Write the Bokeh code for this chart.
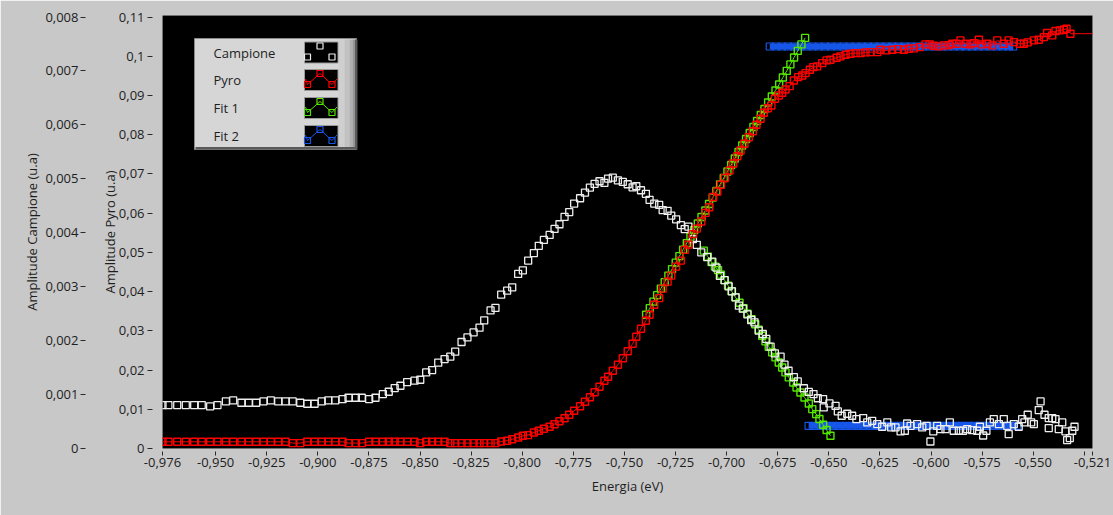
from bokeh.plotting import figure
from bokeh.models import Range1d, LinearAxis, FixedTicker
from bokeh.embed import file_html
from bokeh.resources import INLINE
from bokeh.core.properties import value

# ---------------- data ----------------
energy_campione = [
    -0.9760, -0.9731, -0.9688, -0.9646, -0.9605, -0.9568, -0.9527, -0.9491, -0.9450, -0.9414,
    -0.9374, -0.9338, -0.9302, -0.9266, -0.9230, -0.9194, -0.9158, -0.9123, -0.9086, -0.9052,
    -0.9016, -0.8981, -0.8949, -0.8915, -0.8879, -0.8850, -0.8814, -0.8785, -0.8749, -0.8718,
    -0.8682, -0.8653, -0.8624, -0.8596, -0.8563, -0.8527, -0.8499, -0.8470, -0.8441, -0.8411,
    -0.8380, -0.8352, -0.8328, -0.8297, -0.8268, -0.8238, -0.8209, -0.8186, -0.8155, -0.8131,
    -0.8103, -0.8074, -0.8049, -0.8020, -0.7997, -0.7971, -0.7943, -0.7919, -0.7894, -0.7866,
    -0.7842, -0.7818, -0.7793, -0.7770, -0.7746, -0.7717, -0.7693, -0.7669, -0.7646, -0.7622,
    -0.7598, -0.7580, -0.7557, -0.7532, -0.7508, -0.7484, -0.7460, -0.7442, -0.7419, -0.7395,
    -0.7377, -0.7354, -0.7330, -0.7313, -0.7289, -0.7271, -0.7247, -0.7224, -0.7205, -0.7187,
    -0.7165, -0.7146, -0.7124, -0.7095, -0.7070, -0.7050, -0.7033, -0.7010, -0.6990, -0.6974,
    -0.6956, -0.6940, -0.6921, -0.6898, -0.6880, -0.6864, -0.6843, -0.6823, -0.6806, -0.6785,
    -0.6764, -0.6736, -0.6717, -0.6697, -0.6671, -0.6652, -0.6622, -0.6598, -0.6575, -0.6554,
    -0.6528, -0.6525, -0.6497, -0.6467, -0.6456, -0.6437, -0.6410, -0.6386, -0.6365, -0.6332,
    -0.6312, -0.6288, -0.6263, -0.6239, -0.6214, -0.6195, -0.6174, -0.6149, -0.6128, -0.6117,
    -0.6100, -0.6068, -0.6043, -0.6022, -0.6003, -0.5989, -0.5970, -0.5954, -0.5929, -0.5908,
    -0.5889, -0.5864, -0.5843, -0.5823, -0.5799, -0.5774, -0.5761, -0.5745, -0.5729, -0.5712,
    -0.5693, -0.5668, -0.5644, -0.5627, -0.5620, -0.5595, -0.5571, -0.5554, -0.5543, -0.5527,
    -0.5510, -0.5497, -0.5473, -0.5464, -0.5445, -0.5424, -0.5407, -0.5391, -0.5424, -0.5375,
    -0.5358, -0.5342, -0.5334, -0.5321, -0.5309, -0.5298,
]
amp_campione = [
    0.000806, 0.000806, 0.000806, 0.000806, 0.000806, 0.000806, 0.000780, 0.000806, 0.000872, 0.000891,
    0.000848, 0.000848, 0.000848, 0.000872, 0.000891, 0.000872, 0.000872, 0.000872, 0.000848, 0.000830,
    0.000830, 0.000872, 0.000891, 0.000891, 0.000917, 0.000941, 0.000941, 0.000941, 0.000917, 0.000941,
    0.001010, 0.001052, 0.001121, 0.001164, 0.001232, 0.001257, 0.001275, 0.001411, 0.001455, 0.001591,
    0.001659, 0.001702, 0.001795, 0.001975, 0.002060, 0.002153, 0.002240, 0.002376, 0.002561, 0.002606,
    0.002853, 0.002927, 0.002988, 0.003237, 0.003304, 0.003484, 0.003623, 0.003759, 0.003868, 0.003961,
    0.004072, 0.004158, 0.004295, 0.004384, 0.004542, 0.004640, 0.004746, 0.004839, 0.004908, 0.004956,
    0.004926, 0.005006, 0.005021, 0.004972, 0.004945, 0.004900, 0.004843, 0.004863, 0.004789, 0.004722,
    0.004612, 0.004542, 0.004518, 0.004421, 0.004408, 0.004319, 0.004249, 0.004143, 0.004069, 0.004115,
    0.003883, 0.003777, 0.003638, 0.003549, 0.003465, 0.003354, 0.003202, 0.003122, 0.003005, 0.002914,
    0.002803, 0.002649, 0.002593, 0.002487, 0.002383, 0.002339, 0.002185, 0.002123, 0.002031, 0.001888,
    0.001763, 0.001702, 0.001554, 0.001442, 0.001322, 0.001244, 0.001117, 0.001049, 0.001010, 0.000932,
    0.000917, 0.000761, 0.000835, 0.000789, 0.000687, 0.000607, 0.000644, 0.000607, 0.000546, 0.000564,
    0.000483, 0.000514, 0.000453, 0.000403, 0.000483, 0.000390, 0.000390, 0.000316, 0.000329, 0.000464,
    0.000421, 0.000453, 0.000390, 0.000421, 0.000130, 0.000316, 0.000421, 0.000360, 0.000360, 0.000483,
    0.000329, 0.000329, 0.000329, 0.000360, 0.000342, 0.000329, 0.000403, 0.000241, 0.000329, 0.000483,
    0.000546, 0.000453, 0.000546, 0.000421, 0.000267, 0.000453, 0.000403, 0.000546, 0.000483, 0.000626,
    0.000483, 0.000453, 0.000713, 0.000872, 0.000626, 0.000564, 0.000564, 0.000546, 0.000379, 0.000360,
    0.000483, 0.000316, 0.000156, 0.000193, 0.000329, 0.000403,
]

energy_pyro = [
    -0.9760, -0.9731, -0.9688, -0.9646, -0.9605, -0.9568, -0.9527, -0.9491, -0.9450, -0.9414,
    -0.9374, -0.9338, -0.9302, -0.9266, -0.9230, -0.9194, -0.9158, -0.9123, -0.9086, -0.9052,
    -0.9016, -0.8981, -0.8949, -0.8915, -0.8879, -0.8850, -0.8814, -0.8785, -0.8749, -0.8718,
    -0.8682, -0.8653, -0.8624, -0.8596, -0.8563, -0.8527, -0.8499, -0.8470, -0.8441, -0.8411,
    -0.8380, -0.8352, -0.8328, -0.8297, -0.8268, -0.8238, -0.8209, -0.8186, -0.8155, -0.8131,
    -0.8103, -0.8074, -0.8049, -0.8020, -0.7997, -0.7971, -0.7943, -0.7919, -0.7894, -0.7866,
    -0.7842, -0.7818, -0.7793, -0.7770, -0.7746, -0.7717, -0.7693, -0.7669, -0.7646, -0.7622,
    -0.7598, -0.7580, -0.7557, -0.7532, -0.7508, -0.7484, -0.7460, -0.7442, -0.7419, -0.7395,
    -0.7377, -0.7354, -0.7330, -0.7313, -0.7289, -0.7271, -0.7247, -0.7224, -0.7205, -0.7187,
    -0.7165, -0.7146, -0.7124, -0.7103, -0.7085, -0.7066, -0.7046, -0.7028, -0.7009, -0.6986,
    -0.6968, -0.6948, -0.6932, -0.6913, -0.6892, -0.6872, -0.6854, -0.6834, -0.6818, -0.6799,
    -0.6781, -0.6764, -0.6745, -0.6728, -0.6712, -0.6692, -0.6671, -0.6650, -0.6630, -0.6614,
    -0.6593, -0.6576, -0.6557, -0.6532, -0.6511, -0.6492, -0.6462, -0.6443, -0.6418, -0.6394,
    -0.6369, -0.6345, -0.6321, -0.6296, -0.6263, -0.6247, -0.6218, -0.6190, -0.6162, -0.6133,
    -0.6109, -0.6084, -0.6055, -0.6027, -0.6006, -0.5986, -0.5962, -0.5938, -0.5913, -0.5896,
    -0.5875, -0.5856, -0.5831, -0.5807, -0.5791, -0.5766, -0.5750, -0.5725, -0.5701, -0.5676,
    -0.5644, -0.5620, -0.5595, -0.5566, -0.5546, -0.5527, -0.5497, -0.5473, -0.5448, -0.5432,
    -0.5407, -0.5391, -0.5370, -0.5350, -0.5337, -0.5318, -0.5100,
]
amp_pyro = [
    0.00171, 0.00171, 0.00171, 0.00171, 0.00171, 0.00171, 0.00171, 0.00171, 0.00171, 0.00171,
    0.00171, 0.00171, 0.00171, 0.00171, 0.00171, 0.00171, 0.00171, 0.00138, 0.00138, 0.00171,
    0.00171, 0.00171, 0.00171, 0.00171, 0.00171, 0.00138, 0.00138, 0.00138, 0.00171, 0.00171,
    0.00171, 0.00171, 0.00171, 0.00171, 0.00171, 0.00171, 0.00138, 0.00171, 0.00171, 0.00171,
    0.00171, 0.00138, 0.00138, 0.00138, 0.00138, 0.00138, 0.00138, 0.00138, 0.00138, 0.00138,
    0.00179, 0.00197, 0.00235, 0.00281, 0.00324, 0.00342, 0.00408, 0.00452, 0.00503, 0.00554,
    0.00618, 0.00694, 0.00771, 0.00860, 0.00962, 0.01077, 0.01192, 0.01307, 0.01434, 0.01575,
    0.01728, 0.01830, 0.01983, 0.02136, 0.02302, 0.02481, 0.02672, 0.02851, 0.03055, 0.03259,
    0.03412, 0.03667, 0.03833, 0.04076, 0.04254, 0.04408, 0.04637, 0.04790, 0.05063, 0.05199,
    0.05467, 0.05607, 0.05786, 0.06008, 0.06151, 0.06411, 0.06551, 0.06725, 0.06896, 0.07087,
    0.07266, 0.07452, 0.07598, 0.07769, 0.07937, 0.08090, 0.08254, 0.08407, 0.08560, 0.08677,
    0.08746, 0.08917, 0.09002, 0.09070, 0.09155, 0.09239, 0.09384, 0.09469, 0.09512, 0.09571,
    0.09657, 0.09724, 0.09742, 0.09826, 0.09895, 0.09913, 0.09964, 0.09997, 0.10040, 0.10066,
    0.10081, 0.10081, 0.10099, 0.10107, 0.10107, 0.10168, 0.10150, 0.10168, 0.10183, 0.10168,
    0.10193, 0.10201, 0.10234, 0.10303, 0.10303, 0.10270, 0.10252, 0.10278, 0.10285, 0.10321,
    0.10321, 0.10405, 0.10321, 0.10303, 0.10336, 0.10423, 0.10303, 0.10321, 0.10278, 0.10405,
    0.10321, 0.10405, 0.10362, 0.10321, 0.10321, 0.10354, 0.10405, 0.10423, 0.10489, 0.10592,
    0.10533, 0.10643, 0.10660, 0.10678, 0.10704, 0.10576, 0.10576,
]

# Fit 1: rising branch (Pyro scale) and falling branch (Campione scale)
energy_fit1_rise = [
    -0.7394, -0.7376, -0.7358, -0.7340, -0.7322, -0.7303, -0.7285, -0.7267, -0.7249, -0.7231,
    -0.7213, -0.7195, -0.7177, -0.7159, -0.7141, -0.7123, -0.7104, -0.7086, -0.7068, -0.7050,
    -0.7032, -0.7014, -0.6996, -0.6978, -0.6960, -0.6942, -0.6924, -0.6905, -0.6887, -0.6869,
    -0.6851, -0.6833, -0.6815, -0.6797, -0.6779, -0.6761, -0.6743, -0.6725, -0.6706, -0.6688,
    -0.6670, -0.6652, -0.6634, -0.6616,
]
amp_fit1_rise = [
    0.03412, 0.03578, 0.03744, 0.03910, 0.04076, 0.04242, 0.04408, 0.04574, 0.04739, 0.04905,
    0.05071, 0.05237, 0.05403, 0.05569, 0.05735, 0.05901, 0.06067, 0.06232, 0.06398, 0.06564,
    0.06730, 0.06896, 0.07062, 0.07228, 0.07394, 0.07560, 0.07725, 0.07891, 0.08045, 0.08198,
    0.08351, 0.08504, 0.08657, 0.08823, 0.08976, 0.09129, 0.09282, 0.09461, 0.09627, 0.09793,
    0.09971, 0.10137, 0.10303, 0.10469,
]
energy_fit1_fall = [
    -0.7112, -0.7092, -0.7074, -0.7057, -0.7042, -0.7028, -0.7010, -0.6993, -0.6976, -0.6957,
    -0.6937, -0.6917, -0.6898, -0.6878, -0.6860, -0.6843, -0.6826, -0.6810, -0.6794, -0.6777,
    -0.6761, -0.6745, -0.6728, -0.6712, -0.6696, -0.6674, -0.6658, -0.6639, -0.6619, -0.6598,
    -0.6581, -0.6562, -0.6546, -0.6528, -0.6511, -0.6492,
]
amp_fit1_fall = [
    0.003669, 0.003558, 0.003456, 0.003373, 0.003308, 0.003224, 0.003122, 0.003020, 0.002918, 0.002806,
    0.002704, 0.002602, 0.002500, 0.002398, 0.002305, 0.002203, 0.002092, 0.001986, 0.001888, 0.001782,
    0.001689, 0.001596, 0.001503, 0.001411, 0.001318, 0.001225, 0.001132, 0.001039, 0.000947, 0.000835,
    0.000731, 0.000638, 0.000546, 0.000440, 0.000342, 0.000236,
]

# Fit 2: two flat levels (plateau on Pyro scale, baseline on Campione scale)
energy_fit2_top = [
    -0.6789, -0.6759, -0.6729, -0.6699, -0.6669, -0.6639, -0.6609, -0.6579, -0.6549, -0.6519,
    -0.6489, -0.6459, -0.6429, -0.6399, -0.6369, -0.6339, -0.6309, -0.6279, -0.6249, -0.6219,
    -0.6189, -0.6159, -0.6129, -0.6099, -0.6069, -0.6039, -0.6009, -0.5979, -0.5949, -0.5919,
    -0.5889, -0.5859, -0.5829, -0.5799, -0.5769, -0.5739, -0.5709, -0.5679, -0.5649, -0.5619,
    -0.5598,
]
fit2_top_level = 0.1025
energy_fit2_base = [
    -0.6599, -0.6569, -0.6539, -0.6509, -0.6479, -0.6449, -0.6419, -0.6389, -0.6359, -0.6329,
    -0.6299, -0.6269, -0.6239, -0.6209, -0.6179, -0.6149, -0.6119, -0.6089, -0.6059, -0.6029,
    -0.5999, -0.5969, -0.5939, -0.5909, -0.5879, -0.5849, -0.5819, -0.5789, -0.5759, -0.5729,
    -0.5699, -0.5669, -0.5639, -0.5609, -0.5578,
]
fit2_base_level = 0.00042
amp_fit2_top = [fit2_top_level] * len(energy_fit2_top)
amp_fit2_base = [fit2_base_level] * len(energy_fit2_base)

x_ticks = [-0.976, -0.95, -0.925, -0.9, -0.875, -0.85, -0.825, -0.8, -0.775, -0.75,
           -0.725, -0.7, -0.675, -0.65, -0.625, -0.6, -0.575, -0.55, -0.525, -0.521]
x_tick_labels = ["-0,976", "-0,950", "-0,925", "-0,900", "-0,875", "-0,850", "-0,825", "-0,800",
                 "-0,775", "-0,750", "-0,725", "-0,700", "-0,675", "-0,650", "-0,625", "-0,600",
                 "-0,575", "-0,550", "", "-0,521"]
pyro_ticks = [0.0, 0.01, 0.02, 0.03, 0.04, 0.05, 0.06, 0.07, 0.08, 0.09, 0.1, 0.11]
pyro_tick_labels = ["0", "0,01", "0,02", "0,03", "0,04", "0,05", "0,06", "0,07", "0,08", "0,09", "0,1", "0,11"]
camp_ticks = [0.0, 0.001, 0.002, 0.003, 0.004, 0.005, 0.006, 0.007, 0.008]
camp_tick_labels = ["0", "0,001", "0,002", "0,003", "0,004", "0,005", "0,006", "0,007", "0,008"]
legend_labels = ["Campione", "Pyro", "Fit 1", "Fit 2"]

# ---------------- styling / layout ----------------
X_START, X_END = -0.976, -0.521
PYRO_MAX = 0.1104
CAMP_MAX = 0.008 * PYRO_MAX / 0.11
W, H = 1113, 515
B_LEFT, B_RIGHT, B_TOP, B_BOTTOM = 162, 21, 15, 67
FRAME_W = W - B_LEFT - B_RIGHT
FRAME_H = H - B_TOP - B_BOTTOM

PANEL = "#c8c8c8"
TXT = "#1e1e1e"
FONT = "Open Sans"
FS = "13px"
WHITE = "#eeeeee"
RED = "#ff0000"
GREEN = "#55e600"
BLUE = "#1656e8"

p = figure(width=W, height=H, output_backend="svg", toolbar_location=None,
           x_range=Range1d(X_START, X_END), y_range=Range1d(0, PYRO_MAX),
           min_border_left=B_LEFT, min_border_right=B_RIGHT,
           min_border_top=B_TOP, min_border_bottom=B_BOTTOM,
           background_fill_color="black", border_fill_color=PANEL,
           outline_line_color=None)
p.extra_y_ranges = {"camp": Range1d(0, CAMP_MAX)}
p.xgrid.visible = False
p.ygrid.visible = False


def style_axis(ax):
    ax.axis_line_color = None
    ax.minor_tick_line_color = None
    ax.major_tick_line_color = "#2a2a2a"
    ax.major_tick_line_width = 1
    ax.major_label_text_font = FONT
    ax.major_label_text_font_size = FS
    ax.major_label_text_color = TXT
    ax.axis_label_text_font = FONT
    ax.axis_label_text_font_size = FS
    ax.axis_label_text_font_style = "normal"
    ax.axis_label_text_color = TXT


xa = p.xaxis[0]
style_axis(xa)
xa.ticker = FixedTicker(ticks=x_ticks)
xa.major_label_overrides = {float(t): s for t, s in zip(x_ticks, x_tick_labels)}
xa.major_tick_in = -3
xa.major_tick_out = 7
xa.major_label_standoff = 2
xa.axis_label = "Energia (eV)"
xa.axis_label_standoff = 7

ya = p.yaxis[0]
style_axis(ya)
ya.ticker = FixedTicker(ticks=pyro_ticks)
ya.major_label_overrides = {float(t): s for t, s in zip(pyro_ticks, pyro_tick_labels)}
ya.major_tick_in = -10
ya.major_tick_out = 15
ya.major_label_standoff = 3
ya.axis_label = "Amplitude Pyro (u.a)"
ya.axis_label_standoff = -3

ca = LinearAxis(y_range_name="camp")
style_axis(ca)
ca.ticker = FixedTicker(ticks=camp_ticks)
ca.major_label_overrides = {float(t): s for t, s in zip(camp_ticks, camp_tick_labels)}
ca.major_tick_in = -12
ca.major_tick_out = 17
ca.major_label_standoff = 2
ca.axis_label = "Amplitude Campione (u.a)"
ca.axis_label_standoff = 1
p.add_layout(ca, "left")

# ---------------- series ----------------
# Fit 2 (blue): dense markers merge into a solid bar
p.line(energy_fit2_top, amp_fit2_top, line_color=BLUE, line_width=6)
p.scatter(energy_fit2_top, amp_fit2_top, marker="square", size=7, line_color=BLUE,
          fill_alpha=0, line_width=1.2)
p.line(energy_fit2_base, amp_fit2_base, line_color=BLUE, line_width=6, y_range_name="camp")
p.scatter(energy_fit2_base, amp_fit2_base, marker="square", size=7, line_color=BLUE,
          fill_alpha=0, line_width=1.2, y_range_name="camp")

# Fit 1 (green)
p.line(energy_fit1_rise, amp_fit1_rise, line_color=GREEN, line_width=1)
p.scatter(energy_fit1_rise, amp_fit1_rise, marker="square", size=7, line_color=GREEN,
          fill_alpha=0, line_width=1.4)
p.line(energy_fit1_fall, amp_fit1_fall, line_color=GREEN, line_width=1, y_range_name="camp")
p.scatter(energy_fit1_fall, amp_fit1_fall, marker="square", size=7, line_color=GREEN,
          fill_alpha=0, line_width=1.4, y_range_name="camp")

# Campione (white, markers only)
p.scatter(energy_campione, amp_campione, marker="square", size=7, line_color=WHITE,
          fill_alpha=0, line_width=1.3, y_range_name="camp")

# Pyro (red, line + markers)
p.line(energy_pyro, amp_pyro, line_color=RED, line_width=1)
p.scatter(energy_pyro, amp_pyro, marker="square", size=7, line_color=RED,
          fill_alpha=0, line_width=1.4)

# ---------------- legend (LabVIEW style: label left, icon right) ----------------
def lx(px):
    return X_START + (px - B_LEFT) * (X_END - X_START) / FRAME_W


def ly(py):
    return PYRO_MAX - (py - B_TOP) * PYRO_MAX / FRAME_H


p.quad(left=[lx(194)], right=[lx(356)], top=[ly(38)], bottom=[ly(149)],
       fill_color="#d6d6d6", line_color="#8a8a8a", line_width=1)
shade = [(338, 344, "#cfcfcf"), (344, 349, "#c2c2c2"), (349, 352, "#b0b0b0"), (352, 355, "#979797")]
for a, b, c in shade:
    p.quad(left=[lx(a)], right=[lx(b)], top=[ly(39)], bottom=[ly(147)], fill_color=c, line_color=None)
p.quad(left=[lx(195)], right=[lx(356)], top=[ly(146.5)], bottom=[ly(149)], fill_color="#5a5a5a", line_color=None)
p.quad(left=[lx(354.5)], right=[lx(357)], top=[ly(39)], bottom=[ly(149)], fill_color="#5a5a5a", line_color=None)

row_centers = [52, 79.5, 107.5, 135.5]
row_colors = [WHITE, RED, GREEN, BLUE]
p.text(x=[lx(213)] * 4, y=[ly(c) for c in row_centers], text=legend_labels,
       text_font=value(FONT), text_font_size="13px", text_color=TXT,
       text_baseline="middle", text_align="left")
for i, (c, col) in enumerate(zip(row_centers, row_colors)):
    p.quad(left=[lx(304)], right=[lx(337.5)], top=[ly(c - 10.5)], bottom=[ly(c + 10.5)],
           fill_color="black", line_color="#9a9a9a", line_width=1)
    mx = [lx(307), lx(319.5), lx(331.5)]
    my = [ly(c + 4.5), ly(c - 6.5), ly(c + 4.5)]
    if i > 0:
        p.line([lx(305)] + mx + [lx(336.5)], [ly(c - 1)] + my + [ly(c - 1)],
               line_color=col, line_width=1)
    p.scatter(mx, my, marker="square", size=6, line_color=col, fill_alpha=0, line_width=1.2)

open("out.html", "w").write(file_html(p, INLINE))
